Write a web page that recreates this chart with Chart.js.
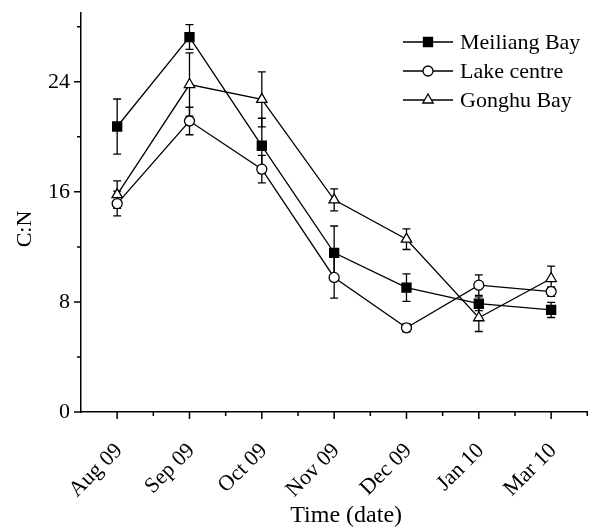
<!DOCTYPE html>
<html>
<head>
<meta charset="utf-8">
<script src="https://cdn.jsdelivr.net/npm/chart.js"></script>
<style>
  body { margin: 0; background: #fff; }
  canvas { display: block; }
</style>
</head>
<body>
<canvas id="chart" width="595" height="530"></canvas>
<script>
const months = ['Aug 09', 'Sep 09', 'Oct 09', 'Nov 09', 'Dec 09', 'Jan 10', 'Mar 10'];

const meiliang = [20.75, 27.25, 19.35, 11.57, 9.04, 7.87, 7.42];
const meiliangErr = [2.0, 0.9, 2.0, 1.95, 1.0, 0.5, 0.55];

const lakeCentre = [15.15, 21.15, 17.65, 9.78, 6.12, 9.22, 8.75];
const lakeCentreErr = [0.9, 1.0, 1.0, 1.5, 0.3, 0.75, 0.35];

const gonghu = [15.8, 23.8, 22.72, 15.42, 12.56, 6.85, 9.7];
const gonghuErr = [1.0, 2.3, 2.0, 0.8, 0.75, 1.0, 0.9];

const yTicks = [0, 4, 8, 12, 16, 20, 24, 28];

const font = { family: 'Liberation Serif', size: 22 };

// vertical error bars with caps, drawn under the markers
const errorBars = {
  id: 'errorBars',
  beforeDatasetsDraw(chart) {
    const ctx = chart.ctx;
    const x = chart.scales.x, y = chart.scales.y;
    ctx.save();
    ctx.strokeStyle = '#000';
    ctx.lineWidth = 1.3;
    chart.data.datasets.forEach(ds => {
      ds.data.forEach((v, i) => {
        const px = x.getPixelForValue(i);
        const top = y.getPixelForValue(v + ds.err[i]);
        const bot = y.getPixelForValue(v - ds.err[i]);
        ctx.beginPath();
        ctx.moveTo(px, top); ctx.lineTo(px, bot);
        ctx.moveTo(px - 4, top); ctx.lineTo(px + 4, top);
        ctx.moveTo(px - 4, bot); ctx.lineTo(px + 4, bot);
        ctx.stroke();
      });
    });
    ctx.restore();
  }
};

// outward tick marks, major and minor
const tickMarks = {
  id: 'tickMarks',
  afterDraw(chart) {
    const ctx = chart.ctx;
    const x = chart.scales.x, y = chart.scales.y;
    const area = chart.chartArea;
    ctx.save();
    ctx.strokeStyle = '#000';
    ctx.lineWidth = 1.5;
    ctx.beginPath();
    yTicks.forEach(v => {
      const py = y.getPixelForValue(v);
      const len = v % 8 === 0 ? 7 : 4;
      ctx.moveTo(area.left - len, py); ctx.lineTo(area.left, py);
    });
    months.forEach((m, i) => {
      let px = x.getPixelForValue(i);
      ctx.moveTo(px, area.bottom); ctx.lineTo(px, area.bottom + 7);
      px = x.getPixelForValue(i + 0.5);
      ctx.moveTo(px, area.bottom); ctx.lineTo(px, area.bottom + 4);
    });
    ctx.stroke();
    ctx.restore();
  }
};

// legend box: line with marker, then the name
const legendBox = {
  id: 'legendBox',
  afterDraw(chart) {
    const ctx = chart.ctx;
    ctx.save();
    chart.data.datasets.forEach((ds, i) => {
      const ly = 42 + i * 29;
      ctx.strokeStyle = '#000';
      ctx.lineWidth = 1.3;
      ctx.beginPath();
      ctx.moveTo(403, ly); ctx.lineTo(453, ly);
      ctx.stroke();
      ctx.fillStyle = ds.pointBackgroundColor;
      Chart.helpers.drawPoint(ctx, {
        pointStyle: ds.pointStyle, radius: ds.pointRadius, rotation: 0, borderWidth: 1.3
      }, 428, ly);
      ctx.fillStyle = '#000';
      ctx.font = '22px "Liberation Serif"';
      ctx.textBaseline = 'middle';
      ctx.textAlign = 'left';
      ctx.fillText(ds.label, 460, ly + 1);
    });
    ctx.restore();
  }
};

function series(label, data, err, style, fill, radius) {
  return {
    label: label,
    data: data,
    err: err,
    borderColor: '#000',
    borderWidth: 1.3,
    tension: 0,
    pointStyle: style,
    pointRadius: radius,
    pointBorderWidth: 1.3,
    pointBorderColor: '#000',
    pointBackgroundColor: fill
  };
}

const ctx = document.getElementById('chart').getContext('2d');
const chart = new Chart(ctx, {
  type: 'line',
  data: {
    labels: months,
    datasets: [
      series('Meiliang Bay', meiliang, meiliangErr, 'rect', '#000', 6.4),
      series('Lake centre', lakeCentre, lakeCentreErr, 'circle', '#fff', 5),
      series('Gonghu Bay', gonghu, gonghuErr, 'triangle', '#fff', 6)
    ]
  },
  options: {
    responsive: false,
    animation: false,
    layout: { padding: { top: 13, right: 7, left: 0, bottom: 0 } },
    plugins: {
      legend: { display: false },
      tooltip: { enabled: false }
    },
    scales: {
      x: {
        offset: true,
        grid: { display: false, drawTicks: false },
        border: { display: true, color: '#000', width: 1.5 },
        ticks: {
          autoSkip: false,
          minRotation: 45,
          maxRotation: 45,
          padding: 26,
          labelOffset: 2,
          color: '#000',
          font: font
        },
        // leading spaces nudge the title right, as in the original
        title: { display: true, text: '    Time (date)', color: '#000', font: { family: 'Liberation Serif', size: 24 }, padding: 0 },
        afterFit: s => { s.height = 118; s.paddingLeft = 0; s.paddingRight = 0; }
      },
      y: {
        min: 0,
        max: 29,
        afterBuildTicks: s => { s.ticks = yTicks.map(v => ({ value: v })); },
        grid: { display: false, drawTicks: false },
        border: { display: true, color: '#000', width: 1.5 },
        ticks: {
          padding: 11,
          color: '#000',
          font: font,
          callback: v => (v % 8 === 0 ? v : '')
        },
        // trailing spaces push the rotated title a little lower
        title: { display: true, text: 'C:N      ', color: '#000', font: font, padding: { top: 12, bottom: 0 } },
        afterFit: s => { s.width = 81; s.paddingTop = 0; s.paddingBottom = 0; }
      }
    }
  },
  plugins: [errorBars, tickMarks, legendBox]
});
</script>
</body>
</html>
